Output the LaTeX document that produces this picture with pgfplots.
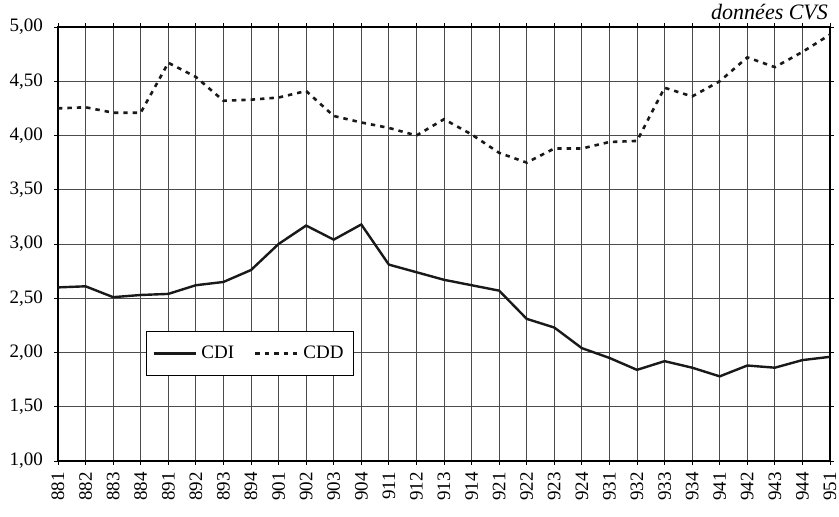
\documentclass[border=0pt]{standalone}
\usepackage{fontspec}
\setmainfont{Liberation Serif}
\usepackage{pgfplots}
\pgfplotsset{compat=1.18}
\begin{document}
\begin{tikzpicture}
\useasboundingbox (-29pt,-28pt) rectangle (390.5pt,230.5pt);
\begin{axis}[
  at={(0,0)}, anchor=south west,
  scale only axis, width=386pt, height=217pt,
  xmin=0, xmax=28, ymin=1, ymax=5,
  xtick={0,...,28},
  xticklabels={881,882,883,884,891,892,893,894,901,902,903,904,911,912,913,914,921,922,923,924,931,932,933,934,941,942,943,944,951},
  xticklabel style={rotate=90, anchor=east, font=\fontsize{9.5}{10}\selectfont, xshift=0pt},
  ytick={1,1.5,...,5},
  yticklabel style={font=\fontsize{9.5}{10}\selectfont, xshift=-2pt},
  /pgf/number format/.cd, fixed, fixed zerofill, precision=2, use comma, assume math mode=true,
  /pgfplots/.cd,
  grid=major,
  major grid style={black!70, line width=0.45pt},
  axis line style={black, line width=0.6pt},
  tick align=outside, major tick length=2pt,
  tick style={black, line width=0.45pt},
  legend style={at={(axis cs:6.96,1.99)}, anchor=center, draw=black, line width=0.5pt,
    font=\fontsize{9.5}{10}\selectfont, inner xsep=3pt, inner ysep=5pt,
    /tikz/every even column/.append style={column sep=8pt}},
  legend columns=2,
  legend image code/.code={\draw[#1] (0cm,0cm) -- (0.75cm,0cm);},
]
\addplot[black!90, line width=1.2pt] coordinates {
(0,2.60) (1,2.61) (2,2.51) (3,2.53) (4,2.54) (5,2.62) (6,2.65) (7,2.76)
(8,3.00) (9,3.17) (10,3.04) (11,3.18) (12,2.81) (13,2.74) (14,2.67) (15,2.62)
(16,2.57) (17,2.31) (18,2.23) (19,2.04) (20,1.95) (21,1.84) (22,1.92) (23,1.86)
(24,1.78) (25,1.88) (26,1.86) (27,1.93) (28,1.96)};
\addlegendentry{CDI}
\addplot[black!90, line width=1.3pt, dash pattern=on 2.2pt off 2.5pt] coordinates {
(0,4.25) (1,4.26) (2,4.21) (3,4.21) (4,4.67) (5,4.54) (6,4.32) (7,4.33)
(8,4.35) (9,4.41) (10,4.18) (11,4.12) (12,4.07) (13,4.00) (14,4.15) (15,4.01)
(16,3.84) (17,3.75) (18,3.88) (19,3.88) (20,3.94) (21,3.95) (22,4.44) (23,4.36)
(24,4.50) (25,4.72) (26,4.63) (27,4.77) (28,4.93)};
\addlegendentry{CDD}
\end{axis}
\node[anchor=base east, font=\itshape\fontsize{11}{12}\selectfont] at (388.5pt,220.5pt) {données CVS};
\end{tikzpicture}
\end{document}
